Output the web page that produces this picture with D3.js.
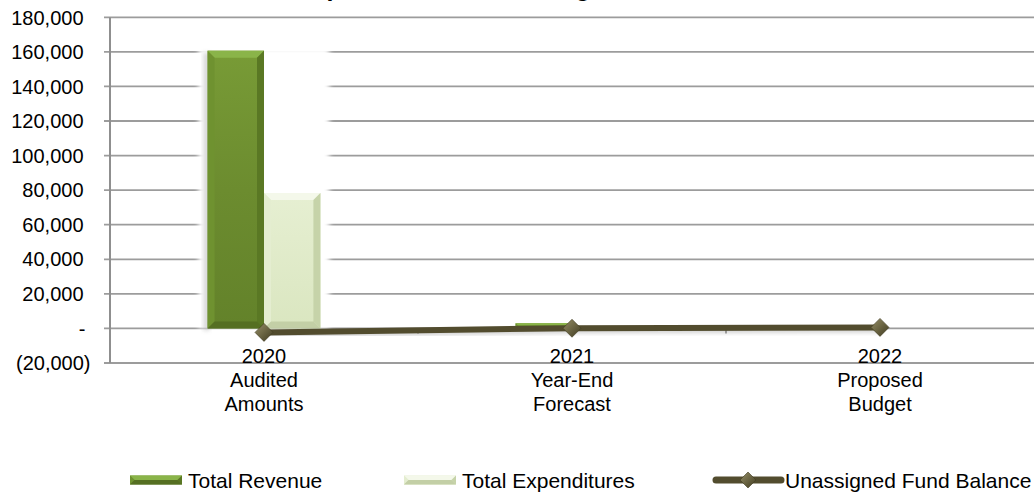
<!DOCTYPE html>
<html>
<head>
<meta charset="utf-8">
<script src="https://cdn.jsdelivr.net/npm/d3@7"></script>
<style>
  html, body { margin: 0; padding: 0; background: #fff; }
  svg { display: block; }
  text { font-family: "Liberation Sans", Arial, sans-serif; fill: #000; }
</style>
</head>
<body>
<svg id="chart" width="1034" height="498"></svg>
<script>
// ---- data ----
const categories = ["2020", "2021", "2022"];
const categoryNotes = [["Audited", "Amounts"], ["Year-End", "Forecast"], ["Proposed", "Budget"]];
const seriesNames = ["Total Revenue", "Total Expenditures", "Unassigned Fund Balance"];
const totalRevenue = [160700, 3000, 0];
const totalExpenditures = [78300, 1200, 0];
const unassignedFundBalance = [-2300, 100, 600];
const yTicks = [-20000, 0, 20000, 40000, 60000, 80000, 100000, 120000, 140000, 160000, 180000];
const titleText = "Revenues, Expenditures and Changes in Fund Balance";

// ---- layout ----
const plot = { left: 110, right: 1034, top: 17.3, bottom: 363 };
const svg = d3.select("#chart");
const defs = svg.append("defs");

const x = d3.scaleBand().domain(categories).range([plot.left, plot.right]).paddingInner(0).paddingOuter(0);
const barSeries = ["rev", "exp"];
const x1 = d3.scaleBand().domain(barSeries).range([0, x.bandwidth()]).paddingInner(0).paddingOuter(1.73);
const y = d3.scaleLinear().domain([-20000, 180000]).range([plot.bottom, plot.top]);

// ---- gradients & filters ----
function vGrad(id, stops) {
  const g = defs.append("linearGradient").attr("id", id).attr("x1", 0).attr("y1", 0).attr("x2", 0).attr("y2", 1);
  stops.forEach(s => g.append("stop").attr("offset", s[0]).attr("stop-color", s[1]));
}
vGrad("revBody", [[0, "#789b36"], [0.5, "#6c8c2f"], [1, "#63822a"]]);
vGrad("expBody", [[0, "#e6efd2"], [1, "#dae6c0"]]);
const dg = defs.append("linearGradient").attr("id", "diamondFill").attr("x1", 0).attr("y1", 0).attr("x2", 1).attr("y2", 1);
dg.append("stop").attr("offset", 0).attr("stop-color", "#958e67");
dg.append("stop").attr("offset", 0.5).attr("stop-color", "#6b6543");
dg.append("stop").attr("offset", 1).attr("stop-color", "#3f3a20");

const halo = defs.append("filter").attr("id", "halo").attr("x", "-30%").attr("y", "-30%").attr("width", "160%").attr("height", "160%");
halo.append("feGaussianBlur").attr("stdDeviation", 2.5);
const shadow = defs.append("filter").attr("id", "shadow").attr("x", "-30%").attr("y", "-30%").attr("width", "160%").attr("height", "160%");
shadow.append("feGaussianBlur").attr("stdDeviation", 2);

// ---- title (sits mostly above the visible area) ----
svg.append("text")
  .attr("x", 164).attr("y", -4.5)
  .attr("font-size", 25).attr("font-weight", "bold")
  .text(titleText);

// ---- gridlines ----
const gridColor = "#9c9c9c";
svg.append("g").selectAll("line").data(yTicks).join("line")
  .attr("x1", plot.left - 6).attr("x2", plot.right)
  .attr("y1", d => y(d)).attr("y2", d => y(d))
  .attr("stroke", gridColor).attr("stroke-width", 1.8);

// ---- y axis labels ----
function fmt(v) {
  if (v === 0) return "-";
  const s = d3.format(",")(Math.abs(v));
  return v < 0 ? "(" + s + ")" : s;
}
svg.append("g").selectAll("text").data(yTicks).join("text")
  .attr("x", d => d < 0 ? 90.5 : (d === 0 ? 85.5 : 83.5))
  .attr("y", d => y(d))
  .attr("dy", "0.36em")
  .attr("text-anchor", "end")
  .attr("font-size", 20)
  .text(fmt);

// ---- bars ----
function bevelBar(g, bx, by, bw, bh, colors) {
  const b = Math.min(7, bw / 2, bh / 2);
  g.append("rect").attr("x", bx).attr("y", by).attr("width", bw).attr("height", bh).attr("fill", colors.body);
  if (b <= 0.5) return;
  g.append("polygon").attr("points", [[bx, by], [bx + bw, by], [bx + bw - b, by + b], [bx + b, by + b]].join(" "))
    .attr("fill", colors.top);
  g.append("polygon").attr("points", [[bx, by], [bx + b, by + b], [bx + b, by + bh - b], [bx, by + bh]].join(" "))
    .attr("fill", colors.left);
  g.append("polygon").attr("points", [[bx + bw, by], [bx + bw - b, by + b], [bx + bw - b, by + bh - b], [bx + bw, by + bh]].join(" "))
    .attr("fill", colors.right);
  g.append("polygon").attr("points", [[bx, by + bh], [bx + b, by + bh - b], [bx + bw - b, by + bh - b], [bx + bw, by + bh]].join(" "))
    .attr("fill", colors.bottom);
}
const revColors = { body: "url(#revBody)", top: "#8ab449", left: "#6f9230", right: "#5a7824", bottom: "#556f22" };
const expColors = { body: "url(#expBody)", top: "#f4f8ea", left: "#e4edd0", right: "#c6d3a9", bottom: "#c3cfa6" };

const barData = categories.map((c, i) => ({ cat: c, rev: totalRevenue[i], exp: totalExpenditures[i] }));

// soft white halo around each bar group that fades the gridlines behind it
const haloG = svg.append("g").attr("filter", "url(#halo)");
barData.forEach(d => {
  const top = Math.min(y(Math.max(d.rev, d.exp)), y(0));
  if (d.rev === 0 && d.exp === 0) return;
  haloG.append("rect")
    .attr("x", x(d.cat) + x1("rev") - 9)
    .attr("y", top - 3)
    .attr("width", x1.bandwidth() * 2 + 18)
    .attr("height", y(0) - top + 3)
    .attr("fill", "#fff");
});
// faint shadow on the left of the bars
const shG = svg.append("g").attr("filter", "url(#shadow)").attr("opacity", 0.35);
barData.forEach(d => {
  if (d.rev > 5000) {
    shG.append("rect")
      .attr("x", x(d.cat) + x1("rev") - 4)
      .attr("y", y(d.rev) + 2)
      .attr("width", 6)
      .attr("height", y(0) - y(d.rev))
      .attr("fill", "#8a8a8a");
  }
});

const barsG = svg.append("g");
barData.forEach(d => {
  if (d.rev !== 0) {
    bevelBar(barsG, x(d.cat) + x1("rev"), y(Math.max(0, d.rev)), x1.bandwidth(), Math.abs(y(d.rev) - y(0)), revColors);
  }
  if (d.exp !== 0) {
    bevelBar(barsG, x(d.cat) + x1("exp"), y(Math.max(0, d.exp)), x1.bandwidth(), Math.abs(y(d.exp) - y(0)), expColors);
  }
});

// ---- y axis line & category ticks ----
svg.append("line")
  .attr("x1", plot.left).attr("x2", plot.left)
  .attr("y1", plot.top).attr("y2", plot.bottom)
  .attr("stroke", "#8f8f8f").attr("stroke-width", 2);
const bounds = categories.map(c => x(c)).concat([plot.right]);
svg.append("g").selectAll("line").data(bounds.slice(1, -1)).join("line")
  .attr("x1", d => d).attr("x2", d => d)
  .attr("y1", y(0)).attr("y2", y(0) + 5)
  .attr("stroke", "#8f8f8f").attr("stroke-width", 1.5);

// ---- fund balance line ----
const cx = c => x(c) + x.bandwidth() / 2;
const linePts = categories.map((c, i) => [cx(c), y(unassignedFundBalance[i])]);
svg.append("path")
  .attr("d", d3.line()(linePts.map(p => [p[0] + 1, p[1] + 2])))
  .attr("fill", "none").attr("stroke", "#000").attr("stroke-opacity", 0.18)
  .attr("stroke-width", 6).attr("filter", "url(#shadow)");
svg.append("path")
  .attr("d", d3.line()(linePts))
  .attr("fill", "none").attr("stroke", "#524c2e").attr("stroke-width", 6);

const diamond = (g, px, py, r) => g.append("path")
  .attr("d", `M${px},${py - r}L${px + r},${py}L${px},${py + r}L${px - r},${py}Z`)
  .attr("fill", "url(#diamondFill)").attr("stroke", "#3f3a20").attr("stroke-width", 0.6);
const markG = svg.append("g");
linePts.forEach(p => diamond(markG, p[0], p[1], 9));

// ---- category labels ----
const catG = svg.append("g").attr("font-size", 20).attr("text-anchor", "middle");
categories.forEach((c, i) => {
  const t = catG.append("text").attr("x", cx(c)).attr("y", 362.5);
  t.append("tspan").attr("x", cx(c)).text(c);
  categoryNotes[i].forEach(n => t.append("tspan").attr("x", cx(c)).attr("dy", 24).text(n));
});

// ---- legend ----
const legY = 480;
const legend = svg.append("g").attr("font-size", 21);
const legItems = [
  { name: seriesNames[0], sx: 130, tx: 188, kind: "rev" },
  { name: seriesNames[1], sx: 404, tx: 462, kind: "exp" },
  { name: seriesNames[2], sx: 713, tx: 785, kind: "line" }
];
legItems.forEach(it => {
  if (it.kind === "line") {
    legend.append("line").attr("x1", it.sx + 3).attr("x2", it.tx - 4)
      .attr("y1", legY).attr("y2", legY)
      .attr("stroke", "#524c2e").attr("stroke-width", 7).attr("stroke-linecap", "round");
    diamond(legend, (it.sx + it.tx - 2) / 2, legY, 8);
  } else {
    bevelBar(legend, it.sx, legY - 4.5, 52, 9, it.kind === "rev" ? revColors : expColors);
  }
  legend.append("text").attr("x", it.tx).attr("y", legY).attr("dy", "0.36em").text(it.name);
});
</script>
</body>
</html>
